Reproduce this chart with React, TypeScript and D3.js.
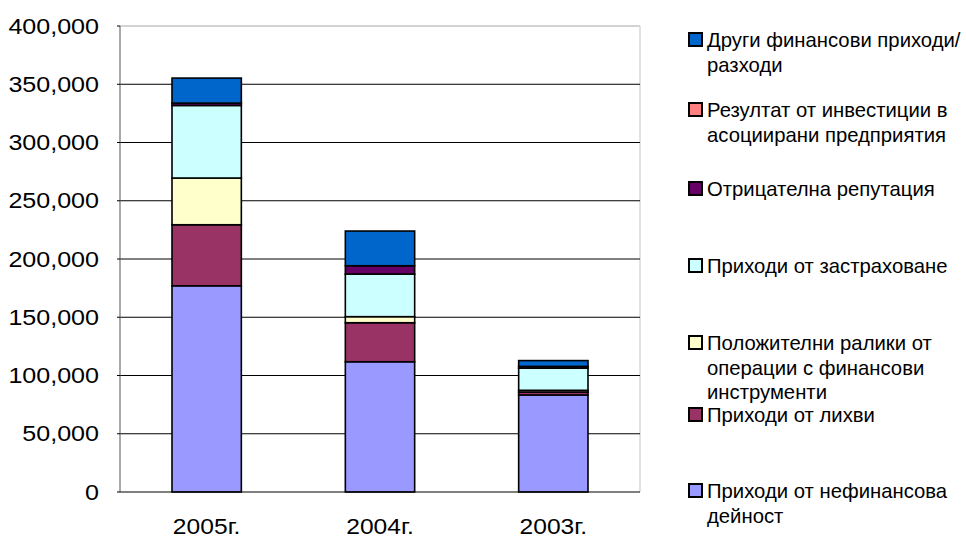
import React from "react";
import * as d3 from "d3";

const categories = ["2005г.", "2004г.", "2003г."];
const seriesNames = [
  "Приходи от нефинансова дейност",
  "Приходи от лихви",
  "Положителни ралики от операции с финансови инструменти",
  "Приходи от застраховане",
  "Отрицателна репутация",
  "Резултат от инвестиции в асоциирани предприятия",
  "Други финансови приходи/ разходи",
];
const nonFinancial = [177000, 111800, 83300];
const interest = [52400, 33500, 2500];
const finInstruments = [40100, 5200, 1500];
const insurance = [62300, 36600, 19000];
const negGoodwill = [2000, 7100, 1500];
const associates = [0, 0, 0];
const otherFin = [21500, 29800, 5000];
const seriesValues = [nonFinancial, interest, finInstruments, insurance, negGoodwill, associates, otherFin];
const colors = ["#9999FF", "#993366", "#FFFFCC", "#CCFFFF", "#660066", "#FF8080", "#0066CC"];
const yTicks = [0, 50000, 100000, 150000, 200000, 250000, 300000, 350000, 400000];

// legend items, top to bottom, with text lines
const legendLines: string[][] = [
  ["Други финансови приходи/", "разходи"],
  ["Резултат от инвестиции в", "асоциирани предприятия"],
  ["Отрицателна репутация"],
  ["Приходи от застраховане"],
  ["Положителни ралики от", "операции с финансови", "инструменти"],
  ["Приходи от лихви"],
  ["Приходи от нефинансова", "дейност"],
];
const legendSeries = [6, 5, 4, 3, 2, 1, 0];
const legendBaselines = [47, 117, 196, 273, 350, 422, 498];

const FONT = "'Liberation Sans', Arial, sans-serif";

export default function App() {
  const W = 966, H = 538;
  const left = 120, right = 640, top = 26, bottom = 492;
  const x = d3.scaleBand<string>().domain(categories).range([left, right]).paddingInner(0.6).paddingOuter(0.3);
  const y = d3.scaleLinear().domain([0, 400000]).range([bottom, top]);

  const table = categories.map((c, i) => {
    const o: Record<string, number | string> = { cat: c };
    seriesNames.forEach((s, j) => (o[s] = seriesValues[j][i]));
    return o;
  });
  const stacked = d3.stack<any>().keys(seriesNames)(table as any);
  const fmt = d3.format(",");

  return (
    <svg width={W} height={H} style={{ position: "absolute", left: 0, top: 0, background: "#fff" }}>
      <rect x={0} y={0} width={W} height={H} fill="#fff" />
      {/* plot border */}
      <line x1={left} x2={right} y1={top} y2={top} stroke="#a6a6a6" strokeWidth={1} />
      <line x1={right} x2={right} y1={top} y2={bottom} stroke="#d9d9d9" strokeWidth={1.5} />
      {/* gridlines */}
      {yTicks.filter((t) => t > 0 && t < 400000).map((t) => (
        <line key={t} x1={left} x2={right} y1={y(t)} y2={y(t)} stroke="#000" strokeWidth={1} />
      ))}
      {/* bars */}
      {stacked.map((layer, j) => (
        <g key={j}>
          {layer.map((d, i) => (
            <rect
              key={i}
              x={x(categories[i])!}
              width={x.bandwidth()}
              y={y(d[1])}
              height={Math.max(0, y(d[0]) - y(d[1]))}
              fill={colors[j]}
              stroke="#000"
              strokeWidth={1.6}
            />
          ))}
        </g>
      ))}
      {/* axes */}
      <line x1={left} x2={left} y1={top} y2={bottom} stroke="#555" strokeWidth={1} />
      <line x1={left} x2={right} y1={bottom} y2={bottom} stroke="#000" strokeWidth={1.2} />
      {yTicks.map((t) => (
        <line key={"tk" + t} x1={left - 3} x2={left} y1={y(t)} y2={y(t)} stroke="#000" />
      ))}
      {yTicks.map((t) => (
        <text
          key={"yl" + t}
          transform={`translate(99,${y(t) + 7.5}) scale(1.14,1)`}
          textAnchor="end"
          fontFamily={FONT}
          fontSize={22}
          fill="#000"
        >
          {fmt(t)}
        </text>
      ))}
      {categories.map((c) => (
        <text
          key={c}
          transform={`translate(${x(c)! + x.bandwidth() / 2},534) scale(1.12,1)`}
          textAnchor="middle"
          fontFamily={FONT}
          fontSize={22}
          fill="#000"
        >
          {c}
        </text>
      ))}
      {/* legend */}
      {legendLines.map((lines, k) => (
        <g key={k}>
          <rect
            x={689}
            y={legendBaselines[k] - 14}
            width={13}
            height={13}
            fill={colors[legendSeries[k]]}
            stroke="#000"
            strokeWidth={2}
          />
          {lines.map((ln, m) => (
            <text
              key={m}
              x={707}
              y={legendBaselines[k] + m * 24.5}
              fontFamily={FONT}
              fontSize={20.3}
              fill="#000"
            >
              {ln}
            </text>
          ))}
        </g>
      ))}
    </svg>
  );
}
